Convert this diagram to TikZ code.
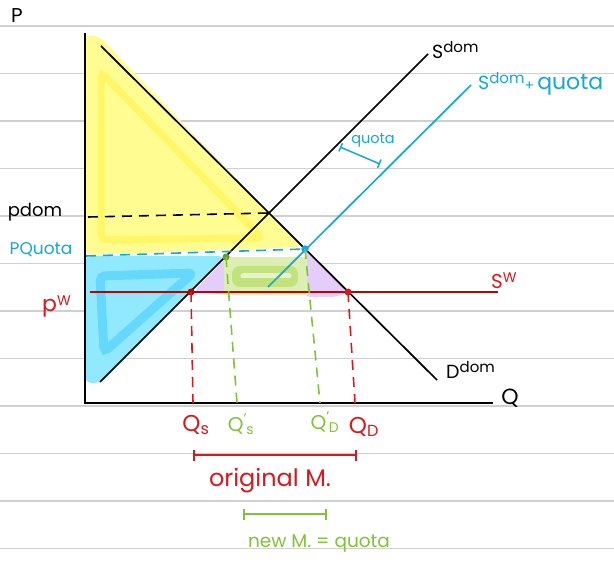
\documentclass[tikz,border=0pt]{standalone}
\usepackage{fontspec}
\setmainfont{Poppins}
\usetikzlibrary{arrows.meta}
\definecolor{hred}{RGB}{215,25,30}
\definecolor{hdred}{RGB}{190,0,0}
\definecolor{hblue}{RGB}{20,168,215}
\definecolor{hgreen}{RGB}{128,195,55}
\definecolor{rulegray}{RGB}{208,208,208}
\definecolor{yfill}{RGB}{255,252,145}
\definecolor{yedge}{RGB}{255,246,90}
\definecolor{bfill}{RGB}{145,233,255}
\definecolor{bedge}{RGB}{90,212,250}
\definecolor{pfill}{RGB}{228,205,250}
\definecolor{gfill}{RGB}{220,238,180}
\definecolor{gedge}{RGB}{195,226,125}
\newcommand\hup[2][15]{\raisebox{6pt}{\fontsize{#1}{#1}\selectfont #2}}
\begin{document}
\begin{tikzpicture}[x=1pt,y=-1pt,
  curve/.style={line width=1.7pt},
  dashln/.style={line width=1.6pt, dash pattern=on 10pt off 7pt},
  dot/.style={circle, inner sep=0pt, minimum size=7pt},
  lab/.style={inner sep=0pt},
  bracket/.style={line width=1.8pt, {Bar[width=11pt]}-{Bar[width=11pt]}}]
\useasboundingbox (0,0) rectangle (614,567);
\fill[white] (0,0) rectangle (614,567);
% notebook rules
\foreach \yy in {26,73.5,121,168.5,216,263.5,311,358.5,406,453.5,501,548.5}
  \draw[rulegray, line width=1.1pt] (0,\yy) -- (614,\yy);
% shaded areas
\fill[yfill, rounded corners=7pt] (85,35) -- (99,36) -- (302,247) -- (85,255) -- cycle;
\draw[yedge, line width=7pt, rounded corners=5pt, opacity=0.8] (101,72) -- (262,238) -- (101,240) -- cycle;
\fill[bfill, rounded corners=7pt] (85,256) -- (225,256) -- (101,383) -- (85,383) -- cycle;
\draw[bedge, line width=9pt, rounded corners=5pt, opacity=0.8] (100,276) -- (193,273) -- (104,352) -- cycle;
\fill[pfill, rounded corners=5pt] (193,292) -- (226,258) -- (232,262) -- (232,295) -- cycle;
\fill[pfill, rounded corners=5pt] (305,249) -- (350,292) -- (335,297) -- (305,297) -- cycle;
\fill[gfill] (224,257) rectangle (307,295);
\fill[gedge, rounded corners=8pt] (232,266) rectangle (298,287);
\draw[gfill!70!white, line width=5pt, line cap=round] (243,276) -- (289,276);
% axes
\coordinate (ytop) at (85,33);
\coordinate (orig) at (85,403);
\coordinate (xend) at (493,403);
\draw[line width=1.8pt] (ytop) -- (orig) -- (xend);
% curves
\coordinate (d1) at (101,46);  \coordinate (d2) at (437,380);
\coordinate (s1) at (100,382); \coordinate (s2) at (428,54);
\coordinate (q1) at (268,287); \coordinate (q2) at (471,85);
\coordinate (w1) at (90,292);  \coordinate (w2) at (498,292);
\draw[curve] (d1) -- (d2);
\draw[curve] (s1) -- (s2);
\draw[curve, hblue] (q1) -- (q2);
\draw[line width=1.6pt, hdred] (w1) -- (w2);
% dashed price lines
\coordinate (pd0) at (88,217); \coordinate (E) at (269,213);
\draw[dashln] (pd0) -- (E);
\coordinate (pq0) at (86,256);
\node[dot, fill=hblue] (B) at (305,249) {};
\draw[dashln, hblue] (pq0) -- (B.center);
% points
\node[dot, fill=hdred] (A) at (191,292) {};
\node[dot, fill=hred] (C) at (348,292) {};
\node[dot, fill=hgreen!80!black] (G) at (226,257) {};
\node[dot, fill=hblue] at (305,249) {};
% dashed verticals
\coordinate (A0) at (193,403); \coordinate (C0) at (355,403);
\coordinate (G0) at (237,403); \coordinate (B0) at (320,403);
\draw[dashln, hred] (A.center) -- (A0);
\draw[dashln, hred] (C.center) -- (C0);
\draw[dashln, hgreen] (G.center) -- (G0);
\draw[dashln, hgreen] (B.center) -- (B0);
% quota shift marker
\coordinate (k1) at (340,147); \coordinate (k2) at (380,164);
\draw[hblue, line width=1.5pt, {Bar[width=9pt]}-{Bar[width=9pt]}] (k1) -- (k2);
\node[lab, hblue, font=\fontsize{14.5}{14.5}\selectfont] (qlab) at (373,140) {quota};
% labels
\node[lab, font=\fontsize{20}{20}\selectfont] (Plab) at (17,16) {P};
\node[lab, font=\fontsize{22}{22}\selectfont] (Qlab) at (510,398) {Q};
\node[lab, font=\fontsize{18}{18}\selectfont] (pdom) at (35,212) {pdom};
\node[lab, hblue, font=\fontsize{17}{17}\selectfont] (pquota) at (41,250) {PQuota};
\node[lab, hred, anchor=west, font=\fontsize{22}{22}\selectfont] (pw) at (42,306) {p\hup[14]{W}};
\node[lab, anchor=west, font=\fontsize{19}{19}\selectfont] (sdom) at (432,50) {S\hup{dom}};
\node[lab, hblue, anchor=west, font=\fontsize{19}{19}\selectfont] (sq) at (478,84) {S\hup{dom}\raisebox{-1pt}{\fontsize{14}{14}\selectfont+}\,{\fontsize{22}{22}\selectfont quota}};
\node[lab, hred, anchor=west, font=\fontsize{20}{20}\selectfont] (sw) at (491,281) {S\hup[14]{W}};
\node[lab, anchor=west, font=\fontsize{19}{19}\selectfont] (ddom) at (446,370) {D\hup{dom}};
% quantity labels
\node[lab, hred, font=\fontsize{23}{23}\selectfont] (Qs) at (196,425) {Q\textsubscript{s}};
\node[lab, hgreen, font=\fontsize{20}{20}\selectfont] (Qs2) at (241,424) {Q\textsuperscript{\textquoteright}\kern-1pt\textsubscript{s}};
\node[lab, hgreen, font=\fontsize{20}{20}\selectfont] (Qd2) at (325,422) {Q\textsuperscript{\textquoteright}\kern-1pt\textsubscript{D}};
\node[lab, hred, font=\fontsize{23}{23}\selectfont] (QD) at (364,427) {Q\textsubscript{D}};
% import brackets
\coordinate (r1) at (193,455); \coordinate (r2) at (357,455);
\draw[hred, bracket] (r1) -- (r2);
\node[lab, hred, font=\fontsize{24}{24}\selectfont] (origm) at (270,481) {original M.};
\coordinate (g1) at (243,514); \coordinate (g2) at (327,514);
\draw[hgreen, bracket] (g1) -- (g2);
\node[lab, hgreen, font=\fontsize{18.5}{18.5}\selectfont] (newm) at (319,544) {new M. = quota};
\end{tikzpicture}
\end{document}
